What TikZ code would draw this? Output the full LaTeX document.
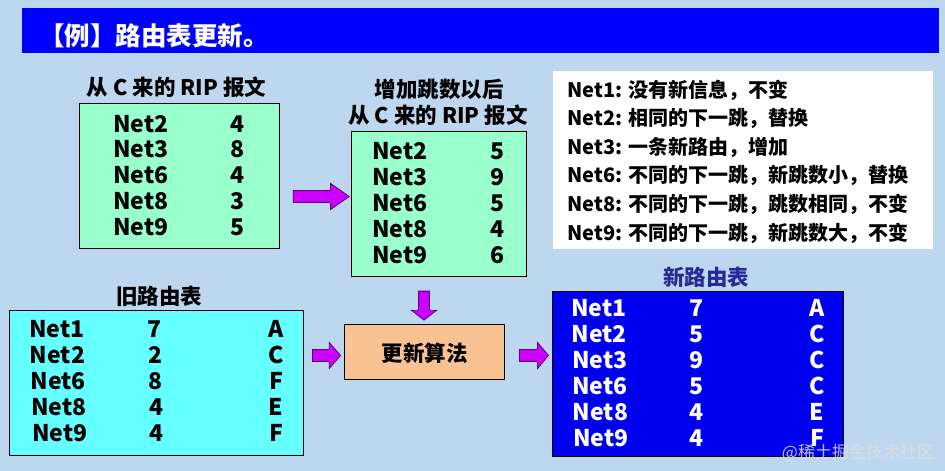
\documentclass[tikz,border=0pt]{standalone}
\usepackage{fontspec}
\setmainfont{Noto Sans CJK SC}
\usetikzlibrary{shapes.arrows}
\definecolor{bgblue}{RGB}{189,215,238}
\definecolor{titleblue}{RGB}{0,0,255}
\definecolor{mintbox}{RGB}{153,255,204}
\definecolor{cyanbox}{RGB}{102,255,255}
\definecolor{peachbox}{RGB}{248,194,146}
\definecolor{newblue}{RGB}{0,0,240}
\definecolor{labelblue}{RGB}{40,40,150}
\definecolor{arrfill}{RGB}{204,0,255}
\definecolor{arrdraw}{RGB}{90,0,120}
\begin{document}
\begin{tikzpicture}[x=1pt,y=-1pt,
  panel/.style={draw=black, line width=0.9pt, inner sep=0pt, anchor=north west},
  cell/.style={inner sep=0pt, font=\bfseries\fontsize{23}{23}\selectfont},
  lbl/.style={inner sep=0pt, font=\bfseries\fontsize{21.5}{21.5}\selectfont},
  note/.style={inner sep=0pt, anchor=base west, font=\bfseries\fontsize{20}{20}\selectfont},
  fatarrow/.style={single arrow, draw=arrdraw, fill=arrfill, line width=0.8pt,
    inner xsep=0pt, inner ysep=5.5pt, single arrow head indent=0pt}
]
\useasboundingbox (0,0) rectangle (945,471);
\fill[bgblue] (0,0) rectangle (945,471);

% title bar
\node[panel, draw=none, fill=titleblue, minimum width=917, minimum height=45] (bar) at (22,8) {};
\node[inner sep=0pt, anchor=base west, text=white, font=\bfseries\fontsize{25.5}{25.5}\selectfont] (title) at (39,45) {【例】路由表更新。};

% box 1: RIP message from C
\node[lbl] (lab1) at (176.5,87.5) {从 C 来的 RIP 报文};
\node[panel, fill=mintbox, minimum width=200, minimum height=145] (box1) at (79,103) {};
\foreach \n/\v [count=\i] in {Net2/4,Net3/8,Net6/4,Net8/3,Net9/5} {
  \node[cell, anchor=base west] (b1n\i) at (113,{132+25.9*(\i-1)}) {\n};
  \node[cell, anchor=base] (b1v\i) at (238,{132+25.9*(\i-1)}) {\v};
}

% box 2: after increasing hop counts
\node[lbl] (lab2a) at (439,89) {增加跳数以后};
\node[lbl] (lab2b) at (438,115.5) {从 C 来的 RIP 报文};
\node[panel, fill=mintbox, minimum width=175, minimum height=145] (box2) at (351,131) {};
\foreach \n/\v [count=\i] in {Net2/5,Net3/9,Net6/5,Net8/4,Net9/6} {
  \node[cell, anchor=base west] (b2n\i) at (372,{159+26*(\i-1)}) {\n};
  \node[cell, anchor=base] (b2v\i) at (497,{159+26*(\i-1)}) {\v};
}

% notes box
\node[panel, draw=none, fill=white, minimum width=380, minimum height=178] (notes) at (553,71) {};
\foreach \t [count=\i] in {Net1: 没有新信息，不变,
                           Net2: 相同的下一跳，替换,
                           Net3: 一条新路由，增加,
                           Net6: 不同的下一跳，新跳数小，替换,
                           Net8: 不同的下一跳，跳数相同，不变,
                           Net9: 不同的下一跳，新跳数大，不变} {
  \node[note] (nt\i) at (567,{97+28.6*(\i-1)}) {\t};
}

% old routing table
\node[lbl] (lab3) at (159,296) {旧路由表};
\node[panel, fill=cyanbox, minimum width=294, minimum height=145] (old) at (9,310) {};
\foreach \n/\v/\r [count=\i] in {Net1/7/A,Net2/2/C,Net6/8/F,Net8/4/E,Net9/4/F} {
  \node[cell, anchor=base west] (on\i) at ({29+0.7*(\i-1)},{337.5+26*(\i-1)}) {\n};
  \node[cell, anchor=base] (ov\i) at ({155+0.5*(\i-1)},{337.5+26*(\i-1)}) {\v};
  \node[cell, anchor=base] (or\i) at (276,{337.5+26*(\i-1)}) {\r};
}

% update algorithm
\node[panel, fill=peachbox, minimum width=160, minimum height=55] (algo) at (344,324) {};
\node[lbl] (algot) at (424.5,353) {更新算法};

% new routing table
\node[lbl, text=labelblue] (lab4) at (706,277) {新路由表};
\node[panel, fill=newblue, minimum width=291, minimum height=165] (new) at (552,291) {};
\foreach \n/\v/\r [count=\i] in {Net1/7/A,Net2/5/C,Net3/9/C,Net6/5/C,Net8/4/E,Net9/4/F} {
  \node[cell, anchor=base west, text=white] (nn\i) at ({571+0.4*(\i-1)},{316+26*(\i-1)}) {\n};
  \node[cell, anchor=base, text=white] (nv\i) at (696.5,{316+26*(\i-1)}) {\v};
  \node[cell, anchor=base, text=white] (nr\i) at (817,{316+26*(\i-1)}) {\r};
}

% block arrows
\node[fatarrow, minimum height=56, minimum width=21, single arrow tip angle=70] (arr1) at (317,196.5) {};
\node[fatarrow, minimum height=28, minimum width=23, single arrow tip angle=98] (arr2) at (324,355.5) {};
\node[fatarrow, inner ysep=5pt, minimum height=29, minimum width=23, single arrow tip angle=104, rotate=-90] (arr3) at (424,303.5) {};
\node[fatarrow, minimum height=29, minimum width=23, single arrow tip angle=100] (arr4) at (531.5,355.5) {};

% watermark
\node[inner sep=0pt, text=white!75!gray, opacity=0.85, font=\fontsize{17}{17}\selectfont] (wm) at (858,453) {@稀土掘金技术社区};
\end{tikzpicture}
\end{document}
